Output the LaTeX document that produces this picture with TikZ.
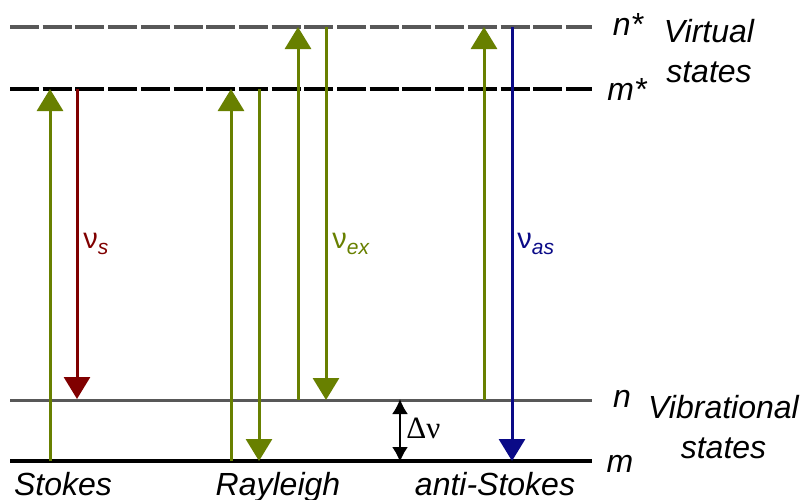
\documentclass[tikz,border=0pt]{standalone}
\usepackage{fontspec}
\setmainfont{Liberation Sans}
\newfontfamily\timesfont{Liberation Serif}
\usetikzlibrary{positioning,arrows.meta}
\definecolor{olive}{RGB}{104,128,0}
\definecolor{darkred}{RGB}{128,0,0}
\definecolor{navy}{RGB}{10,10,135}
\definecolor{levelgray}{RGB}{88,88,88}
\newcommand{\nulab}[1]{{\fontsize{14.5}{14.5}\selectfont ν}{\fontsize{10.5}{10.5}\selectfont\itshape\raisebox{-3pt}{#1}}}

\begin{document}
\begin{tikzpicture}[x=0.5pt,y=-0.5pt,
lvl/.style={line width=1.75pt},
virt/.style={lvl,dash pattern=on 14.5pt off 1.85pt},
exarr/.style={color=olive,line width=1.5pt,-{Triangle[width=13pt,length=11pt]}},
sarr/.style={exarr,color=darkred},
asarr/.style={exarr,color=navy},
lab/.style={font=\fontsize{16}{20}\selectfont\itshape,inner sep=0pt,anchor=base},
nul/.style={inner sep=0pt,anchor=base west}]
\useasboundingbox (0,0) rectangle (804,499);
% energy levels
\draw[virt,levelgray] (10,27) -- (592,27);
\draw[virt,black,line width=2pt] (10,89) -- (592,89);
\draw[lvl,levelgray,line width=1.5pt] (10,400) -- (592,400);
\draw[lvl,black,line width=2pt] (10,461) -- (592,461);
% level labels
\node[lab] (nst) at (628,35) {n*};
\node[lab] (mst) at (627,100) {m*};
\node[lab] (nv) at (622,407) {n};
\node[lab] (mv) at (620,472) {m};
\node[lab,align=center] (virtlab) at (709,82) {Virtual\\states};
\node[lab,align=center] (viblab) at (723.5,458) {Vibrational\\states};
% transitions
\coordinate (st0) at (50,461); \coordinate (st1) at (50,89);
\coordinate (sd0) at (77,89); \coordinate (sd1) at (77,399);
\coordinate (ra0) at (231,461); \coordinate (ra1) at (231,89);
\coordinate (rb0) at (259,89); \coordinate (rb1) at (259,461);
\coordinate (rc0) at (298,400); \coordinate (rc1) at (298,27);
\coordinate (rd0) at (326,27); \coordinate (rd1) at (326,400);
\coordinate (as0) at (484,400); \coordinate (as1) at (484,27);
\coordinate (ad0) at (512,27); \coordinate (ad1) at (512,461);
\draw[exarr] (st0) -- (st1);
\draw[sarr] (sd0) -- (sd1);
\draw[exarr] (ra0) -- (ra1);
\draw[exarr] (rb0) -- (rb1);
\draw[exarr] (rc0) -- (rc1);
\draw[exarr] (rd0) -- (rd1);
\draw[exarr] (as0) -- (as1);
\draw[asarr] (ad0) -- (ad1);
% frequencies
\node[nul,darkred] (nus) at (83,248) {\nulab{s}};
\node[nul,olive] (nuex) at (332,248) {\nulab{ex}};
\node[nul,navy] (nuas) at (517,248) {\nulab{as}};
% shift
\coordinate (dn0) at (400,399); \coordinate (dn1) at (400,462);
\draw[{Latex[length=7.5pt,width=8pt]}-{Latex[length=7.5pt,width=8pt]},line width=1pt] (dn0) -- (dn1);
\node[inner sep=0pt,anchor=base west,font=\timesfont\fontsize{15.5}{15.5}\selectfont] (dnu) at (406,438) {Δν};
% scattering types
\node[lab] (stk) at (63,495) {Stokes};
\node[lab] (ray) at (278,495) {Rayleigh};
\node[lab] (ast) at (495,495) {anti-Stokes};
\end{tikzpicture}
\end{document}
